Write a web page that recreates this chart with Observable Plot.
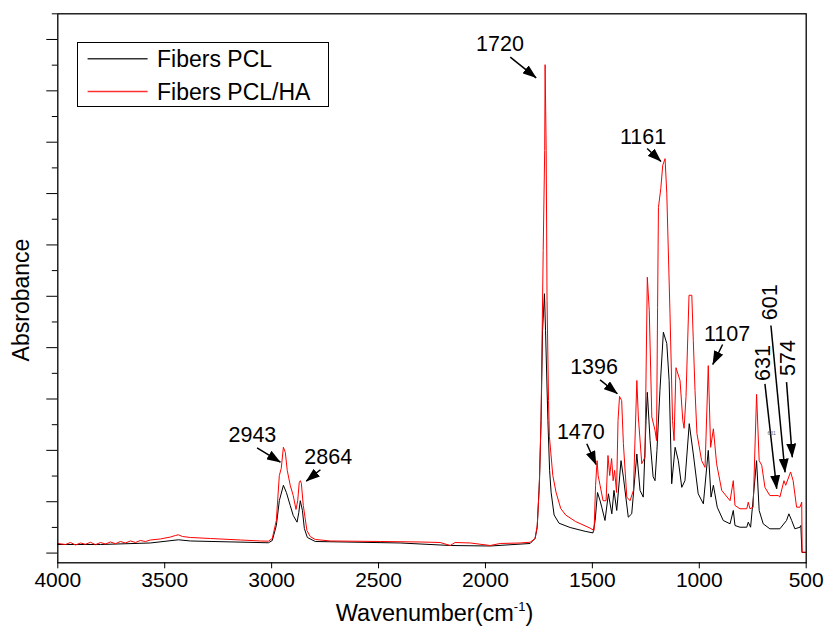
<!DOCTYPE html>
<html><head><meta charset="utf-8">
<script src="https://cdn.jsdelivr.net/npm/d3@7"></script>
<script src="https://cdn.jsdelivr.net/npm/@observablehq/plot@0.6"></script>
<style>
body{margin:0;background:#fff;}
#wrap{position:relative;width:826px;height:631px;}
#legend{position:absolute;left:76.7px;top:42.3px;width:252.6px;height:65px;border:1px solid #000;box-sizing:border-box;background:#fff;}
</style></head><body><div id="wrap"></div>
<script>
// ---- data ----
const seriesNames = ["Fibers PCL", "Fibers PCL/HA"];

const pclWave = [4000,3800,3567,3436,3380,3015,2997,2978,2964,2945,2931,2913,2899,2881,2873,2866,2856,2847,2833,2796,2399,2165,1978,1791,1768,1758,1747,1740,1733,1724,1719,1708,1700,1693,1679,1656,1604,1534,1497,1487,1476,1464,1456,1441,1425,1409,1399,1386,1366,1355,1332,1316,1292,1277,1262,1249,1243,1230,1216,1207,1198,1184,1168,1152,1141,1129,1113,1098,1082,1067,1047,1028,1005,981,958,945,934,916,888,856,841,833,810,778,771,760,732,720,701,670,623,592,581,568,553,529,525,520,503];
const pclAbs = [0.0167,0.0167,0.0197,0.0259,0.0236,0.0201,0.0245,0.0537,0.102,0.132,0.118,0.0927,0.0732,0.0602,0.079,0.102,0.083,0.0479,0.0304,0.0226,0.0197,0.0148,0.0138,0.0187,0.0284,0.0498,0.145,0.258,0.433,0.505,0.433,0.258,0.161,0.1186,0.0742,0.0582,0.0498,0.0424,0.0393,0.0635,0.118,0.102,0.0894,0.0635,0.1155,0.0765,0.122,0.083,0.180,0.148,0.0699,0.0765,0.193,0.122,0.109,0.258,0.313,0.219,0.149,0.141,0.200,0.317,0.430,0.408,0.336,0.135,0.206,0.180,0.128,0.141,0.252,0.193,0.1155,0.096,0.200,0.109,0.132,0.0894,0.0635,0.057,0.083,0.0537,0.0504,0.0504,0.0602,0.0504,0.180,0.083,0.057,0.0473,0.0473,0.0635,0.0765,0.0635,0.0473,0.0504,0.0537,0.0012,0.0012];

const haWave = [4000,3964,3941,3917,3894,3871,3847,3824,3800,3777,3754,3730,3707,3684,3660,3637,3614,3590,3567,3520,3473,3450,3436,3417,3380,3286,3146,3053,3015,2997,2978,2964,2955,2945,2936,2927,2913,2899,2886,2878,2871,2866,2861,2852,2835,2819,2796,2726,2492,2305,2212,2165,2142,2071,1978,1931,1838,1791,1768,1758,1749,1740,1730,1723,1721,1716,1712,1705,1701,1685,1670,1648,1625,1579,1511,1492,1485,1478,1473,1464,1450,1436,1427,1419,1410,1403,1396,1387,1380,1373,1363,1355,1339,1324,1308,1292,1285,1269,1254,1243,1234,1222,1207,1200,1195,1191,1180,1171,1160,1152,1137,1125,1118,1109,1090,1077,1071,1062,1048,1035,1028,1020,1011,989,973,958,947,934,919,895,856,841,833,810,778,771,763,748,732,720,708,693,670,646,631,623,604,596,573,561,545,529,521,519,503];
const haAbs = [0.0187,0.0167,0.0206,0.0158,0.0197,0.0171,0.0210,0.0164,0.0206,0.0177,0.0216,0.0183,0.0226,0.0197,0.0236,0.0206,0.0245,0.0226,0.0255,0.0275,0.0313,0.0343,0.0356,0.0323,0.0304,0.0284,0.0255,0.0236,0.0232,0.0284,0.0635,0.151,0.165,0.206,0.196,0.161,0.132,0.112,0.085,0.102,0.137,0.141,0.136,0.093,0.044,0.032,0.0265,0.0236,0.0226,0.0216,0.0206,0.0148,0.0206,0.0197,0.0148,0.0187,0.0197,0.0212,0.0284,0.0537,0.122,0.258,0.589,0.784,0.951,0.784,0.492,0.297,0.227,0.151,0.1186,0.0868,0.0742,0.0615,0.0487,0.044,0.132,0.180,0.151,0.132,0.102,0.102,0.190,0.151,0.184,0.141,0.161,0.118,0.258,0.305,0.297,0.213,0.109,0.102,0.122,0.336,0.265,0.174,0.187,0.537,0.472,0.265,0.239,0.219,0.478,0.673,0.710,0.755,0.768,0.700,0.467,0.258,0.219,0.361,0.336,0.258,0.243,0.305,0.502,0.502,0.414,0.317,0.233,0.180,0.167,0.365,0.206,0.242,0.174,0.122,0.102,0.141,0.0927,0.0863,0.0863,0.0991,0.0863,0.0894,0.309,0.180,0.171,0.128,0.112,0.112,0.112,0.109,0.141,0.132,0.158,0.141,0.0894,0.0894,0.0991,0.0018,0.0018];

const xTicks = [4000,3500,3000,2500,2000,1500,1000,500];
const yMajorTicks = [0,0.1,0.2,0.3,0.4,0.5,0.6,0.7,0.8,0.9,1.0];
const yMinorTicks = [0.05,0.15,0.25,0.35,0.45,0.55,0.65,0.75,0.85,0.95,1.05];

// peak annotations (data coordinates)
const annText  = ["1720","1161","1396","1470","1107","2943","2864","631","601","574"];
const annWave  = [1932,1263,1492,1554,870,3090,2735,669,638,553];
const annAbs   = [0.977,0.7965,0.3491,0.2225,0.4139,0.2159,0.1739,0.3701,0.4885,0.3799];
const annAngle = [0,0,0,0,0,0,0,-90,-90,-90];
const arrowFromWave = [1884,1244,1464,1526,891,3068,2772,693,665,592];
const arrowFromAbs  = [0.9655,0.7878,0.3374,0.2128,0.4062,0.205,0.1622,0.3296,0.4431,0.3328];
const arrowToWave   = [1763,1179,1383,1483,937,2959,2838,638,599,565];
const arrowToAbs    = [0.9254,0.7625,0.3102,0.1725,0.3672,0.177,0.14,0.1252,0.1575,0.1867];
const tinyText = ["631"];
const tinyWave = [662];
const tinyAbs = [0.2323];

// ---- build ----
const pcl = pclWave.map((w, i) => ({w, a: pclAbs[i]}));
const ha = haWave.map((w, i) => ({w, a: haAbs[i]}));
const ann = annText.map((t, i) => ({t, w: annWave[i], a: annAbs[i], r: annAngle[i],
  w1: arrowFromWave[i], a1: arrowFromAbs[i], w2: arrowToWave[i], a2: arrowToAbs[i]}));
const tiny = tinyText.map((t, i) => ({t, w: tinyWave[i], a: tinyAbs[i]}));

const regular = "'Liberation Sans',Arial,sans-serif";

const chart = Plot.plot({
  width: 826, height: 631,
  marginLeft: 57.3, marginRight: 20.3, marginTop: 13.3, marginBottom: 68.7,
  style: {fontFamily: regular, background: "#fff", overflow: "visible"},
  x: {domain: [4000, 500]},
  y: {domain: [-0.0189, 1.05]},
  marks: [
    Plot.axisX({ticks: xTicks, tickSize: 6, tickPadding: 3, tickFormat: d => String(d),
      label: null, fontSize: 21, fontFamily: regular, stroke: "#000"}),
    Plot.axisY({ticks: yMajorTicks, tickSize: 11, tickFormat: () => "", label: null, stroke: "#000"}),
    Plot.axisY({ticks: yMinorTicks, tickSize: 5.5, tickFormat: () => "", label: null, stroke: "#000"}),
    Plot.line(pcl, {x: "w", y: "a", stroke: "#000", strokeWidth: 1}),
    Plot.line(ha, {x: "w", y: "a", stroke: "#ff0000", strokeWidth: 1}),
    Plot.link(ann, {x1: "w1", y1: "a1", x2: "w2", y2: "a2", stroke: "#000", strokeWidth: 1.5}),
    Plot.text(ann, {x: "w", y: "a", text: "t", rotate: "r", lineAnchor: "bottom", textAnchor: "middle",
      fontSize: 21.5, fontFamily: regular, fill: "#000"}),
    Plot.text(tiny, {x: "w", y: "a", text: "t", fontSize: 5, fill: "#666"}),
    Plot.frame({stroke: "#000", strokeWidth: 1.3})
  ]
});

// filled arrowheads for annotation links
const svg = d3.select(chart);
const defs = svg.insert("defs", ":first-child");
defs.append("marker").attr("id", "ahead").attr("viewBox", "0 0 14 10")
  .attr("refX", 13.5).attr("refY", 5).attr("markerWidth", 14).attr("markerHeight", 10)
  .attr("markerUnits", "userSpaceOnUse").attr("orient", "auto")
  .append("path").attr("d", "M0,0L14,5L0,10Z").attr("fill", "#000");
svg.selectAll('g[aria-label="link"] path, g[aria-label="link"] line').attr("marker-end", "url(#ahead)");

// axis titles
const xl = svg.append("text").attr("x", 434.5).attr("y", 621).attr("text-anchor", "middle")
  .attr("font-family", regular).attr("font-size", 23.5).attr("fill", "#000");
xl.append("tspan").text("Wavenumber(cm");
xl.append("tspan").attr("font-size", 13).attr("dy", -10).text("-1");
xl.append("tspan").attr("dy", 10).text(")");
svg.append("text").attr("transform", "translate(29,300) rotate(-90)").attr("text-anchor", "middle")
  .attr("font-family", regular).attr("font-size", 23).attr("fill", "#000").text("Absrobance");

const wrap = document.getElementById("wrap");
wrap.appendChild(chart);

// legend
const lg = document.createElement("div");
lg.id = "legend";
lg.innerHTML = `<svg width="252" height="65" style="position:absolute;left:-1px;top:-1px;overflow:visible">
  <line x1="10.6" x2="70.6" y1="16.7" y2="16.7" stroke="#333" stroke-width="1.5"/>
  <line x1="10.6" x2="70.6" y1="49.4" y2="49.4" stroke="#ff3030" stroke-width="1.5"/>
  <text x="80" y="25" font-family="Liberation Sans, Arial, sans-serif" font-size="23">${seriesNames[0]}</text>
  <text x="80" y="57.7" font-family="Liberation Sans, Arial, sans-serif" font-size="23">${seriesNames[1]}</text>
</svg>`;
wrap.appendChild(lg);
</script></body></html>
